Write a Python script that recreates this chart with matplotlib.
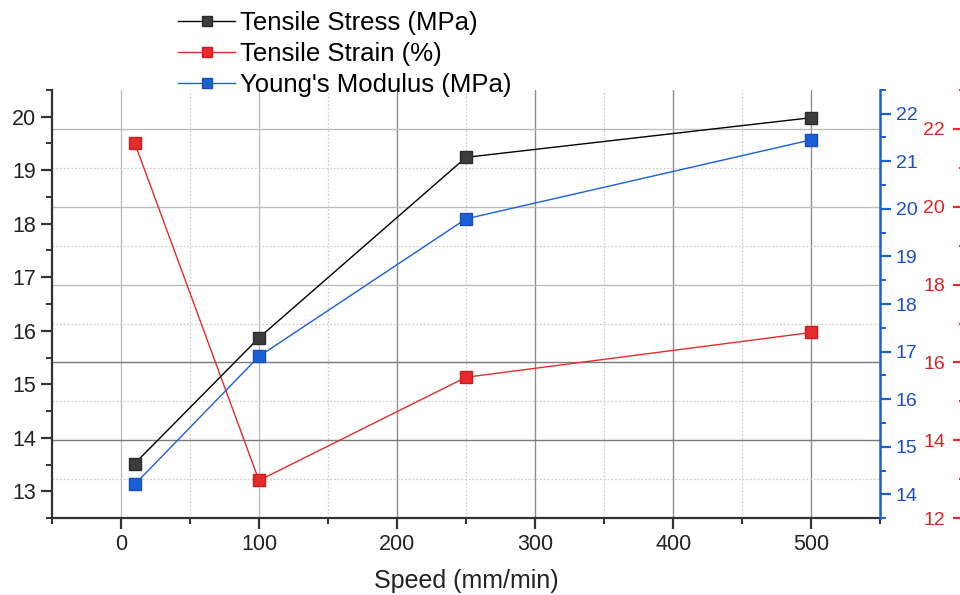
import matplotlib.pyplot as plt
from matplotlib.ticker import MultipleLocator
from matplotlib.lines import Line2D

plt.rcParams['font.family'] = ['Liberation Sans', 'DejaVu Sans']

speed = [10, 100, 250, 500]
stress = [13.52, 15.87, 19.24, 19.98]
strain = [21.64, 12.97, 15.62, 16.77]
modulus = [14.21, 16.90, 19.79, 21.45]

c_black = '#3c3c3c'
c_red = '#e52b2b'
c_blue = '#1a5fd6'
c_red_txt = '#d92424'
c_blue_txt = '#1a4fc4'

fig = plt.figure(figsize=(9.6, 5.95), dpi=100)
ax = fig.add_axes([0.054, 0.129, 0.863, 0.72])
ax2 = ax.twinx()
ax3 = ax.twinx()

# red axis carries the grid and sits underneath
ax3.set_zorder(0)
ax.set_zorder(1)
ax2.set_zorder(2)
ax.patch.set_visible(False)
ax3.patch.set_visible(True)
ax3.patch.set_facecolor('white')

ax.set_xlim(-50, 550)
ax.set_ylim(12.5, 20.5)
ax2.set_ylim(13.5, 22.5)
ax3.set_ylim(12, 23)

ax.xaxis.set_major_locator(MultipleLocator(100))
ax.xaxis.set_minor_locator(MultipleLocator(50))
ax.yaxis.set_major_locator(MultipleLocator(1))
ax.yaxis.set_minor_locator(MultipleLocator(0.5))
ax2.yaxis.set_major_locator(MultipleLocator(1))
ax2.yaxis.set_minor_locator(MultipleLocator(0.5))
ax3.yaxis.set_major_locator(MultipleLocator(2))
ax3.yaxis.set_minor_locator(MultipleLocator(1))

ax.plot(speed, stress, color='black', lw=1.0, marker='s', ms=8,
        mfc=c_black, mec='#2a2a2a', zorder=3)
ax3.plot(speed, strain, color=c_red, lw=1.0, marker='s', ms=8,
         mfc=c_red, mec='#c81e1e', zorder=3)
ax2.plot(speed, modulus, color=c_blue, lw=1.0, marker='s', ms=8,
         mfc=c_blue, mec='#1550b8', zorder=3)

# spines
for s in ['top', 'right']:
    ax.spines[s].set_visible(False)
ax.spines['left'].set_color('#333333')
ax.spines['left'].set_linewidth(1.6)
ax.spines['bottom'].set_color('#333333')
ax.spines['bottom'].set_linewidth(1.6)

for s in ['top', 'left', 'bottom']:
    ax2.spines[s].set_visible(False)
ax2.spines['right'].set_color(c_blue)
ax2.spines['right'].set_linewidth(1.8)

for s in ['top', 'right', 'bottom']:
    ax3.spines[s].set_visible(False)
ax3.yaxis.set_ticks_position('left')
ax3.yaxis.set_label_position('left')
ax3.spines['left'].set_visible(True)
ax3.spines['left'].set_position(('axes', 1.1))
ax3.spines['left'].set_color(c_red)
ax3.spines['left'].set_linewidth(1.6)

ax.tick_params(axis='both', which='major', direction='out', length=8, width=1.6,
               color='#333333', labelsize=15.5, labelcolor='#222222')
ax.tick_params(axis='both', which='minor', direction='out', length=4, width=1.4,
               color='#333333')
ax2.tick_params(axis='y', which='major', direction='out', length=8, width=1.6,
                color=c_blue, labelsize=14, labelcolor=c_blue_txt, pad=3)
ax2.tick_params(axis='y', which='minor', direction='out', length=4, width=1.4,
                color=c_blue)
ax3.tick_params(axis='y', which='major', direction='out', length=7, width=1.6,
                color=c_red, labelsize=14, labelcolor=c_red_txt, pad=6)
ax3.tick_params(axis='y', which='minor', direction='out', length=3, width=1.4,
                color=c_red)

# grid (twinx hides the x axis, switch it back on without labels)
ax3.xaxis.set_visible(True)
ax3.tick_params(axis='x', which='both', bottom=True, length=0, labelbottom=False)
ax3.grid(True, which='major', axis='both', color='#bdbdbd', lw=1.0, ls='-')
ax3.grid(True, which='minor', axis='both', color='#cfcfcf', lw=0.9, ls=(0, (1.5, 1.5)))

ax.set_xlabel('Speed (mm/min)', fontsize=18, color='#222222', labelpad=10)

handles = [
    Line2D([], [], color='black', lw=1.0, marker='s', ms=7, mfc=c_black, mec='#2a2a2a'),
    Line2D([], [], color=c_red, lw=1.0, marker='s', ms=7, mfc=c_red, mec='#c81e1e'),
    Line2D([], [], color=c_blue, lw=1.0, marker='s', ms=7, mfc=c_blue, mec='#1550b8'),
]
labels = ['Tensile Stress (MPa)', 'Tensile Strain (%)', "Young's Modulus (MPa)"]
leg = fig.legend(handles, labels, loc='upper left', bbox_to_anchor=(0.175, 0.998),
                 frameon=False, fontsize=18.5, handlelength=2.2, handletextpad=0.2,
                 labelspacing=0.26, borderaxespad=0)
leg.set_zorder(10)

# shade a few grid lines darker once the ticks exist
fig.canvas.draw()
for t in ax3.yaxis.get_major_ticks():
    if round(t.get_loc()) in (14, 16):
        t.gridline.set_color('#7a7a7a')
for t in ax3.yaxis.get_minor_ticks():
    if t.get_loc() >= 22.9:
        t.gridline.set_visible(False)
for t in ax3.xaxis.get_major_ticks():
    if t.get_loc() >= 199:
        t.gridline.set_color('#8e8e8e')

fig.savefig('out.png', dpi=100)
